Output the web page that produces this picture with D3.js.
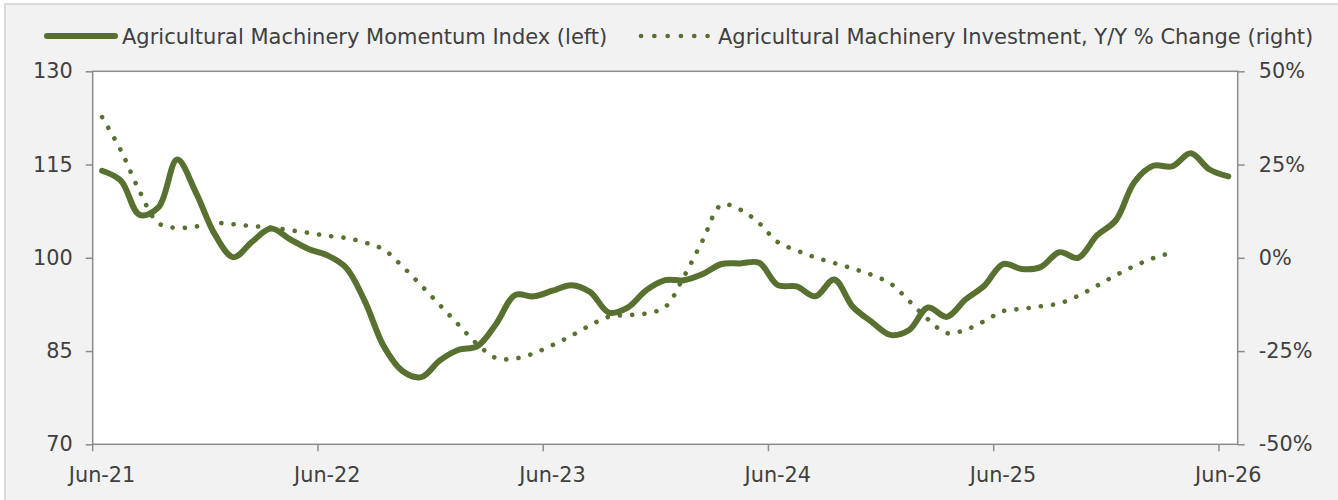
<!DOCTYPE html>
<html>
<head>
<meta charset="utf-8">
<script src="https://cdn.jsdelivr.net/npm/d3@7"></script>
<style>
  html, body { margin: 0; padding: 0; background: #fff; }
  svg { display: block; font-family: "DejaVu Sans", Verdana, sans-serif; }
</style>
</head>
<body>
<div id="chart"></div>
<script>
// monthly categories Jun-21 .. Jun-26
const months = d3.timeMonth.range(new Date(2021, 5, 1), new Date(2026, 6, 1));
const fmt = d3.timeFormat('%b-%y');
const categories = months.map(fmt);
const tickLabels = ['Jun-21', 'Jun-22', 'Jun-23', 'Jun-24', 'Jun-25', 'Jun-26'];

// Agricultural Machinery Momentum Index (left axis)
const momentum = [
  114.0, 112.4, 106.9, 108.1, 115.8, 110.5, 103.8, 100.1, 102.6, 104.7,
  103.0, 101.4, 100.4, 98.4, 93.0, 85.8, 81.8, 80.8, 83.5, 85.2,
  85.8, 89.4, 94.0, 93.8, 94.7, 95.6, 94.5, 91.2, 92.0, 94.8,
  96.4, 96.4, 97.4, 99.0, 99.1, 99.2, 95.6, 95.4, 93.8, 96.5,
  92.1, 89.7, 87.6, 88.4, 92.0, 90.5, 93.3, 95.5, 99.0, 98.2,
  98.5, 100.9, 100.0, 103.6, 106.0, 112.2, 114.8, 114.7, 116.8, 114.2,
  113.1
];

// Agricultural Machinery Investment, Y/Y % change (right axis)
const investment = [
  37.7, 28.8, 17.8, 9.3, 8.0, 8.4, 9.3, 9.0, 8.5, 8.1,
  7.4, 6.7, 5.9, 5.3, 4.1, 2.2, -2.3, -7.4, -12.7, -18.0,
  -23.2, -26.9, -27.0, -25.6, -23.4, -20.9, -18.1, -15.8, -15.4, -14.9,
  -13.2, -5.0, 4.7, 14.2, 12.9, 9.3, 4.2, 2.0, 0.1, -1.4,
  -2.9, -4.6, -6.9, -11.6, -16.5, -20.2, -19.3, -17.0, -14.3, -13.7,
  -13.0, -12.2, -10.2, -7.5, -4.7, -2.2, -0.1, 1.4
];

const leftTicks = [70, 85, 100, 115, 130];
const rightTicks = [-50, -25, 0, 25, 50];

const W = 1338, H = 500;
const mLeft = 92.7, mRight = 1237.7, mTop = 71.3, mBottom = 444.3;
const green = '#587130';
const axisGrey = '#8c8c8c';
const textCol = '#404040';

const svg = d3.select('#chart').append('svg')
    .attr('width', W)
    .attr('height', H);

// chart area background and border
svg.append('rect')
    .attr('x', 5).attr('y', 4)
    .attr('width', W + 10).attr('height', H + 10)
    .attr('fill', '#f2f2f2')
    .attr('stroke', '#d9d9d9')
    .attr('stroke-width', 2);

svg.append('rect')
    .attr('x', mLeft).attr('y', mTop)
    .attr('width', mRight - mLeft).attr('height', mBottom - mTop)
    .attr('fill', '#fff');

const x = d3.scaleBand()
    .domain(categories)
    .range([mLeft, mRight])
    .paddingInner(0).paddingOuter(0);

const yL = d3.scaleLinear().domain([70, 130]).range([mBottom, mTop]);
const yR = d3.scaleLinear().domain([-50, 50]).range([mBottom, mTop]);

const cx = i => x(categories[i]) + x.bandwidth() / 2;

// axes
const gL = svg.append('g')
    .attr('transform', `translate(${mLeft},0)`)
    .call(d3.axisLeft(yL).tickValues(leftTicks).tickSize(7).tickPadding(13));

const gR = svg.append('g')
    .attr('transform', `translate(${mRight},0)`)
    .call(d3.axisRight(yR).tickValues(rightTicks).tickSize(7).tickPadding(14)
        .tickFormat(d => d + '%'));

const gB = svg.append('g')
    .attr('transform', `translate(0,${mBottom})`)
    .call(d3.axisBottom(x).tickValues(tickLabels).tickSize(7).tickPadding(16));

// ticks sit on the category boundary, labels in the middle
gB.selectAll('.tick line')
    .attr('transform', `translate(${-x.bandwidth() / 2},0)`);

[gL, gR, gB].forEach(g => {
    g.select('.domain').remove();
    g.selectAll('.tick line').attr('stroke', axisGrey).attr('stroke-width', 1.5);
    g.selectAll('.tick text')
        .attr('fill', textCol)
        .style('font-size', '20.8px')
        .style('font-family', '"DejaVu Sans", Verdana, sans-serif');
});

// plot frame
svg.append('rect')
    .attr('x', mLeft).attr('y', mTop)
    .attr('width', mRight - mLeft).attr('height', mBottom - mTop)
    .attr('fill', 'none')
    .attr('stroke', axisGrey)
    .attr('stroke-width', 1.5);

svg.append('clipPath').attr('id', 'clip')
    .append('rect')
    .attr('x', mLeft).attr('y', mTop)
    .attr('width', mRight - mLeft).attr('height', mBottom - mTop);

const lineL = d3.line()
    .x((d, i) => cx(i))
    .y(d => yL(d))
    .curve(d3.curveCatmullRom.alpha(0.5));

const lineR = d3.line()
    .x((d, i) => cx(i))
    .y(d => yR(d))
    .curve(d3.curveCatmullRom.alpha(0.5));

const plot = svg.append('g').attr('clip-path', 'url(#clip)');

plot.append('path')
    .datum(investment)
    .attr('d', lineR)
    .attr('fill', 'none')
    .attr('stroke', green)
    .attr('stroke-width', 4.6)
    .attr('stroke-linecap', 'round')
    .attr('stroke-dasharray', '0.1 12.2');

plot.append('path')
    .datum(momentum)
    .attr('d', lineL)
    .attr('fill', 'none')
    .attr('stroke', green)
    .attr('stroke-width', 6)
    .attr('stroke-linejoin', 'round')
    .attr('stroke-linecap', 'round');

// legend
const legend = svg.append('g');
legend.append('line')
    .attr('x1', 47).attr('x2', 115)
    .attr('y1', 36).attr('y2', 36)
    .attr('stroke', green)
    .attr('stroke-width', 6)
    .attr('stroke-linecap', 'round');
legend.append('text')
    .attr('x', 122).attr('y', 43.5)
    .attr('fill', textCol)
    .style('font-size', '21px')
    .text('Agricultural Machinery Momentum Index (left)');

legend.append('line')
    .attr('x1', 641).attr('x2', 708)
    .attr('y1', 36).attr('y2', 36)
    .attr('stroke', green)
    .attr('stroke-width', 4.6)
    .attr('stroke-linecap', 'round')
    .attr('stroke-dasharray', '0.1 13.2');
legend.append('text')
    .attr('x', 718).attr('y', 43.5)
    .attr('fill', textCol)
    .style('font-size', '21px')
    .text('Agricultural Machinery Investment, Y/Y % Change (right)');
</script>
</body>
</html>
